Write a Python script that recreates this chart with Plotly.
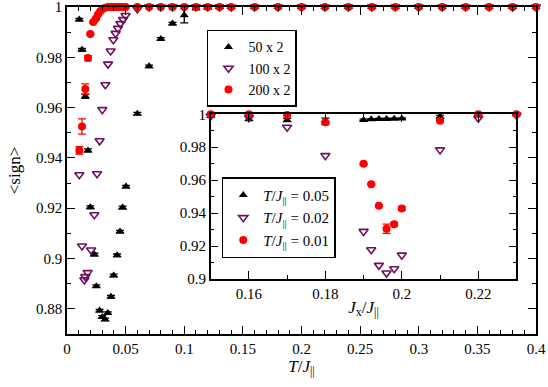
import plotly.graph_objects as go

# ---------------- main panel data ----------------
T_50 = [0.0105, 0.0128, 0.0156, 0.0179, 0.0199, 0.0233, 0.0250, 0.0278, 0.0300, 0.0325,
        0.0348, 0.0375, 0.0398, 0.0427, 0.0452, 0.0474, 0.0503, 0.06, 0.07, 0.08, 0.09, 0.10,
        0.11, 0.12, 0.13, 0.14, 0.16, 0.18, 0.20, 0.22, 0.24, 0.26, 0.28, 0.30, 0.32, 0.34,
        0.36, 0.38, 0.40]
S_50 = [0.995, 0.983, 0.9645, 0.943, 0.9204, 0.9016, 0.8890, 0.8793, 0.8768, 0.8758,
        0.8783, 0.8848, 0.8933, 0.9013, 0.9107, 0.9203, 0.9286, 0.9576, 0.9764, 0.9873, 0.9934, 0.9967,
        0.9995, 0.9998, 1.0, 1.0, 1.0, 1.0, 1.0, 1.0, 1.0, 1.0, 1.0, 1.0, 1.0, 1.0,
        1.0, 1.0, 1.0]
E_50 = [0.0005, 0.0005, 0.0008, 0.0006, 0.0005, 0.0005, 0.0005, 0.0005, 0.0005, 0.0005,
        0.0005, 0.0005, 0.0005, 0.0005, 0.0005, 0.0005, 0.0005, 0.0005, 0.0005, 0.0005, 0.0005, 0.003,
        0.0005, 0.0005, 0.0005, 0.0005, 0.0005, 0.0005, 0.0005, 0.0005, 0.0005, 0.0005, 0.0005, 0.0005, 0.0005, 0.0005,
        0.0005, 0.0005, 0.0005]

T_100 = [0.0105, 0.0128, 0.0148, 0.0156, 0.0176, 0.0205, 0.0233, 0.0256, 0.0278, 0.0301,
         0.0327, 0.0350, 0.0372, 0.0395, 0.0415, 0.0435, 0.0455, 0.0478, 0.0500, 0.06, 0.07,
         0.08, 0.09, 0.10, 0.11, 0.12, 0.13, 0.14, 0.16, 0.18, 0.20, 0.22, 0.24, 0.26, 0.28,
         0.30, 0.32, 0.34, 0.36, 0.38, 0.40]
S_100 = [0.9333, 0.9050, 0.8915, 0.8928, 0.8944, 0.9034, 0.9174, 0.9337, 0.9468, 0.9592,
         0.9691, 0.9773, 0.9825, 0.9870, 0.9895, 0.9915, 0.9934, 0.9950, 0.9966, 0.9992, 1.0,
         1.0, 1.0, 0.9998, 1.0, 1.0, 1.0, 1.0, 1.0, 1.0, 1.0, 1.0, 1.0, 1.0, 1.0,
         1.0, 1.0, 1.0, 1.0, 1.0, 1.0]

T_200 = [0.0105, 0.0128, 0.0156, 0.0179, 0.0199, 0.0224, 0.0247, 0.0265, 0.0284, 0.0304,
         0.0327, 0.035, 0.0375, 0.04, 0.0425, 0.045, 0.0475, 0.05, 0.06, 0.07, 0.08, 0.09,
         0.10, 0.11, 0.12, 0.13, 0.14, 0.16, 0.18, 0.20, 0.22, 0.24, 0.26, 0.28, 0.30, 0.32,
         0.34, 0.36, 0.38, 0.40]
S_200 = [0.9430, 0.9525, 0.9674, 0.9797, 0.9893, 0.9940, 0.9954, 0.9970, 0.9983, 0.9992,
         0.9997, 1.0, 1.0, 1.0, 1.0, 1.0, 1.0, 1.0, 1.0, 1.0, 1.0, 1.0,
         1.0, 1.0, 1.0, 1.0, 1.0, 1.0, 1.0, 1.0, 1.0, 1.0, 1.0, 1.0, 1.0, 1.0,
         1.0, 1.0, 1.0, 1.0]
E_200 = [0.0015, 0.003, 0.002, 0.001, 0.0003, 0.0003, 0.0003, 0.0003, 0.0003, 0.0003,
         0.0003, 0.0003, 0.0003, 0.0003, 0.0003, 0.0003, 0.0003, 0.0003, 0.0003, 0.0003, 0.0003, 0.0003,
         0.0003, 0.0003, 0.0003, 0.0003, 0.0003, 0.0003, 0.0003, 0.0003, 0.0003, 0.0003, 0.0003, 0.0003, 0.0003, 0.0003,
         0.0003, 0.0003, 0.0003, 0.0003]

# ---------------- inset data ----------------
JX = [0.15, 0.16, 0.17, 0.18, 0.19, 0.192, 0.194, 0.196, 0.198, 0.20, 0.21, 0.22, 0.23]
S_T005 = [0.9990, 0.9972, 0.9965, 0.9957, 0.9966, 0.9970, 0.9971, 0.9972, 0.9973, 0.9974, 0.9985, 0.9990, 1.0]
E_T005 = [0.0005, 0.0010, 0.0010, 0.0020, 0.0005, 0.0004, 0.0004, 0.0004, 0.0004, 0.0004, 0.0010, 0.0005, 0.0004]
S_T002 = [0.9990, 0.9980, 0.9921, 0.9749, 0.9289, 0.9178, 0.9083, 0.9036, 0.9062, 0.9145, 0.9784, 0.9976, 0.9995]
S_T001 = [1.0, 1.0, 0.9995, 0.9952, 0.9699, 0.9576, 0.9444, 0.9305, 0.9333, 0.9428, 0.9961, 1.0, 1.0]
E_T001 = [0.0003, 0.0003, 0.0003, 0.0003, 0.0004, 0.0004, 0.0004, 0.0028, 0.0010, 0.0010, 0.0004, 0.0003, 0.0003]

FONT = "Liberation Serif, Times New Roman, Times, serif"
BLACK = "#000000"
PURPLE = "#6e0f62"
RED = "#ff0000"

fig = go.Figure()

# main traces
fig.add_trace(go.Scatter(
    x=T_50, y=S_50, mode="markers", name="50 x 2", legend="legend",
    marker=dict(symbol="triangle-up", size=8, color=BLACK),
    error_y=dict(type="data", array=E_50, color=BLACK, thickness=1.3, width=4),
    cliponaxis=False, xaxis="x", yaxis="y"))
fig.add_trace(go.Scatter(
    x=T_100, y=S_100, mode="markers", name="100 x 2", legend="legend",
    marker=dict(symbol="triangle-down-open", size=8, color=PURPLE, line=dict(width=1.6, color=PURPLE)),
    cliponaxis=False, xaxis="x", yaxis="y"))
fig.add_trace(go.Scatter(
    x=T_200, y=S_200, mode="markers", name="200 x 2", legend="legend",
    marker=dict(symbol="circle", size=8, color=RED),
    error_y=dict(type="data", array=E_200, color=RED, thickness=1.3, width=4),
    cliponaxis=False, xaxis="x", yaxis="y"))

# inset traces
fig.add_trace(go.Scatter(
    x=JX, y=S_T005, mode="markers", name="<i>T</i>/<i>J</i><sub>||</sub> = 0.05", legend="legend2",
    marker=dict(symbol="triangle-up", size=8, color=BLACK),
    error_y=dict(type="data", array=E_T005, color=BLACK, thickness=1.3, width=4),
    cliponaxis=False, xaxis="x2", yaxis="y2"))
fig.add_trace(go.Scatter(
    x=JX, y=S_T002, mode="markers", name="<i>T</i>/<i>J</i><sub>||</sub> = 0.02", legend="legend2",
    marker=dict(symbol="triangle-down-open", size=8, color=PURPLE, line=dict(width=1.6, color=PURPLE)),
    cliponaxis=False, xaxis="x2", yaxis="y2"))
fig.add_trace(go.Scatter(
    x=JX, y=S_T001, mode="markers", name="<i>T</i>/<i>J</i><sub>||</sub> = 0.01", legend="legend2",
    marker=dict(symbol="circle", size=8, color=RED),
    error_y=dict(type="data", array=E_T001, color=RED, thickness=1.3, width=4),
    cliponaxis=False, xaxis="x2", yaxis="y2"))

axis_common = dict(showline=True, linecolor="black", linewidth=1.5, mirror="allticks",
                   ticks="inside", ticklen=8, tickwidth=1.3, tickcolor="black",
                   showgrid=False, zeroline=False, automargin=False,
                   ticklabeloverflow="allow",
                   tickfont=dict(family=FONT, size=15, color="black"))

fig.update_layout(
    width=548, height=387,
    margin=dict(l=67, r=12, t=7, b=53, autoexpand=False),
    paper_bgcolor="white", plot_bgcolor="white",
    font=dict(family=FONT, size=15, color="black"),
    xaxis=dict(domain=[0, 1], range=[0, 0.4], tick0=0, dtick=0.05,
               minor=dict(ticks="inside", dtick=0.01, ticklen=4, tickwidth=1.1, tickcolor="black"),
               title=dict(text="<i>T</i>/<i>J</i><sub>||</sub>", standoff=0,
                          font=dict(family=FONT, size=17)),
               **axis_common),
    yaxis=dict(domain=[0, 1], range=[0.87, 1.0], tick0=0, dtick=0.02,
               minor=dict(ticks="inside", dtick=0.01, ticklen=4, tickwidth=1.1, tickcolor="black"),
               title=dict(text="&lt;sign&gt;", standoff=11, font=dict(family=FONT, size=17)),
               **axis_common),
    xaxis2=dict(domain=[0.3064, 0.9584], range=[0.15, 0.23], tick0=0, dtick=0.02, anchor="y2",
                minor=dict(ticks="inside", dtick=0.01, ticklen=4, tickwidth=1.1, tickcolor="black"),
                title=dict(text="<i>J</i><sub>x</sub>/<i>J</i><sub>||</sub>", standoff=0,
                           font=dict(family=FONT, size=17)),
                **axis_common),
    yaxis2=dict(domain=[0.1682, 0.6719], range=[0.9, 1.0], tick0=0, dtick=0.02, anchor="x2",
                minor=dict(ticks="inside", dtick=0.01, ticklen=4, tickwidth=1.1, tickcolor="black"),
                **axis_common),
    legend=dict(x=0.2985, y=0.93, xanchor="left", yanchor="top",
                bordercolor="black", borderwidth=1.5, bgcolor="white",
                font=dict(family=FONT, size=14), tracegroupgap=0, itemwidth=30),
    legend2=dict(x=0.33, y=0.479, xanchor="left", yanchor="top",
                 bordercolor="black", borderwidth=1.5, bgcolor="white",
                 font=dict(family=FONT, size=15), tracegroupgap=0, itemwidth=30),
    showlegend=True,
)

fig.write_html("out.html", config={"displayModeBar": False},
               post_script="document.body.style.margin='0px';")
